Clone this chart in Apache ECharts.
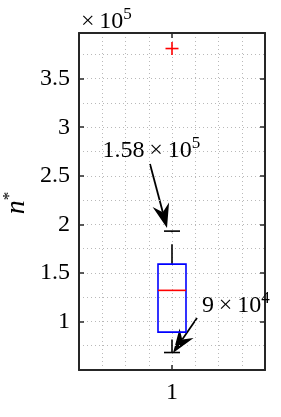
<!DOCTYPE html>
<html><head><meta charset="utf-8">
<script src="https://cdn.jsdelivr.net/npm/echarts@6/dist/echarts.min.js"></script>
<style>html,body{margin:0;padding:0;background:#fff}#c{width:281px;height:417px}</style>
</head><body><div id="c"></div>
<script>
// ---- data ----
const categories = ['1'];
const lowerWhisker = [0.68];
const q1 = [0.89];
const median = [1.32];
const q3 = [1.59];
const upperWhisker = [1.93];
const outliers = [3.81];
const yTickValues = [1, 1.5, 2, 2.5, 3, 3.5];
const xTickValues = [1];
const yRange = [0.5, 3.97];
const axisExponent = ['×\u200910', '5'];
const annotationHigh = ['1.58\u2009×\u200910', '5'];
const annotationLow = ['9\u2009×\u200910', '4'];
const yLabel = ['n', '*'];

// ---- style ----
const FONT = '"Times New Roman", serif';
const AX = '#262626';
const GRID = { color: '#b9b9b9', type: [1, 3], width: 1 };

const chart = echarts.init(document.getElementById('c'));

const boxData = categories.map((c, i) => [i, lowerWhisker[i], q1[i], median[i], q3[i], upperWhisker[i]]);
const outlierData = outliers.map(v => [0, v]);

function supText(parts, x, y) {
  return {
    type: 'text', x: x, y: y, z: 100,
    style: {
      text: '{b|' + parts[0] + '}{s|' + parts[1] + '}', fill: '#000', fontFamily: FONT, fontSize: 24,
      rich: {
        b: { fontFamily: FONT, fontSize: 24, lineHeight: 28, verticalAlign: 'bottom' },
        s: { fontFamily: FONT, fontSize: 17, lineHeight: 17, verticalAlign: 'top' }
      }
    }
  };
}
function arrow(tail, tip) {
  const L = 24, W = 8.5, notch = 0.68;
  const dx = tip[0] - tail[0], dy = tip[1] - tail[1];
  const len = Math.sqrt(dx * dx + dy * dy);
  const ux = dx / len, uy = dy / len, nx = -uy, ny = ux;
  const bx = tip[0] - ux * L, by = tip[1] - uy * L;
  const mx = tip[0] - ux * L * notch, my = tip[1] - uy * L * notch;
  return {
    type: 'group', z: 100,
    children: [
      { type: 'line', shape: { x1: tail[0], y1: tail[1], x2: mx, y2: my }, style: { stroke: '#000', lineWidth: 1.8 } },
      { type: 'polygon', shape: { points: [tip, [bx + nx * W, by + ny * W], [mx, my], [bx - nx * W, by - ny * W]] }, style: { fill: '#000' } }
    ]
  };
}

const hiddenAxisParts = { axisLine: { show: false }, axisTick: { show: false }, axisLabel: { show: false } };

const option = {
  animation: false,
  backgroundColor: '#fff',
  textStyle: { fontFamily: FONT },
  grid: { left: 79, right: 16, top: 33, bottom: 47, containLabel: false },
  xAxis: [
    {
      type: 'category', data: categories, boundaryGap: true, position: 'bottom',
      axisLine: { show: true, lineStyle: { color: AX, width: 2 } },
      axisTick: { show: true, inside: true, alignWithLabel: true, length: 5, lineStyle: { color: AX, width: 1.5 } },
      axisLabel: { fontFamily: FONT, fontSize: 24, color: '#000', margin: 11 },
      splitLine: { show: false }
    },
    {
      type: 'value', min: 0.5, max: 1.5, interval: 0.5, position: 'top',
      axisLine: { show: true, onZero: false, lineStyle: { color: AX, width: 2 } },
      axisTick: { show: true, inside: true, length: 5, customValues: xTickValues, lineStyle: { color: AX, width: 1.5 } },
      axisLabel: { show: false },
      splitLine: { show: false }
    },
    Object.assign({
      type: 'value', min: 0.5, max: 1.5, interval: 0.125, position: 'bottom',
      splitLine: { show: true, lineStyle: GRID }
    }, hiddenAxisParts)
  ],
  yAxis: [
    {
      type: 'value', min: yRange[0], max: yRange[1], interval: 0.5, position: 'left',
      axisLine: { show: true, onZero: false, lineStyle: { color: AX, width: 2 } },
      axisTick: { show: true, inside: true, length: 5, customValues: yTickValues, lineStyle: { color: AX, width: 1.5 } },
      axisLabel: { fontFamily: FONT, fontSize: 24, color: '#000', margin: 9, customValues: yTickValues, formatter: v => String(v) },
      splitLine: { show: false }
    },
    {
      type: 'value', min: yRange[0], max: yRange[1], interval: 0.5, position: 'right',
      axisLine: { show: true, onZero: false, lineStyle: { color: AX, width: 2 } },
      axisTick: { show: true, inside: true, length: 5, customValues: yTickValues, lineStyle: { color: AX, width: 1.5 } },
      axisLabel: { show: false },
      splitLine: { show: false }
    },
    Object.assign({
      type: 'value', min: yRange[0], max: yRange[1], interval: 0.25, position: 'left',
      splitLine: { show: true, lineStyle: GRID }
    }, hiddenAxisParts)
  ],
  series: [
    {
      type: 'custom', xAxisIndex: 0, yAxisIndex: 0, z: 10,
      data: boxData,
      encode: { x: 0, y: [1, 2, 3, 4, 5] },
      renderItem: function (params, api) {
        const i = api.value(0);
        const pLo = api.coord([i, api.value(1)]);
        const pQ1 = api.coord([i, api.value(2)]);
        const pMed = api.coord([i, api.value(3)]);
        const pQ3 = api.coord([i, api.value(4)]);
        const pHi = api.coord([i, api.value(5)]);
        const cx = pQ1[0];
        const hb = 14, hc = 8;
        return {
          type: 'group',
          children: [
            { type: 'line', shape: { x1: cx, y1: pQ3[1], x2: cx, y2: pHi[1] }, style: { stroke: '#000', lineWidth: 1.6, lineDash: [20, 12] } },
            { type: 'line', shape: { x1: cx, y1: pLo[1], x2: cx, y2: pQ1[1] }, style: { stroke: '#000', lineWidth: 1.6, lineDash: [13, 20] } },
            { type: 'line', shape: { x1: cx - hc, y1: pHi[1], x2: cx + hc, y2: pHi[1] }, style: { stroke: '#000', lineWidth: 1.6 } },
            { type: 'line', shape: { x1: cx - hc, y1: pLo[1], x2: cx + hc, y2: pLo[1] }, style: { stroke: '#000', lineWidth: 1.6 } },
            { type: 'rect', shape: { x: cx - hb, y: pQ3[1], width: hb * 2, height: pQ1[1] - pQ3[1] }, style: { stroke: '#0000ff', fill: null, lineWidth: 1.6 } },
            { type: 'line', shape: { x1: cx - hb, y1: pMed[1], x2: cx + hb, y2: pMed[1] }, style: { stroke: '#ff0000', lineWidth: 1.6 } }
          ]
        };
      }
    },
    {
      type: 'custom', xAxisIndex: 0, yAxisIndex: 0, z: 11,
      data: outlierData,
      encode: { x: 0, y: 1 },
      renderItem: function (params, api) {
        const p = api.coord([api.value(0), api.value(1)]);
        const h = 6.5;
        return {
          type: 'group',
          children: [
            { type: 'line', shape: { x1: p[0] - h, y1: p[1], x2: p[0] + h, y2: p[1] }, style: { stroke: '#ff0000', lineWidth: 1.6 } },
            { type: 'line', shape: { x1: p[0], y1: p[1] - h, x2: p[0], y2: p[1] + h }, style: { stroke: '#ff0000', lineWidth: 1.6 } }
          ]
        };
      }
    }
  ],
  graphic: [
    supText(axisExponent, 81, 6),
    supText(annotationHigh, 102.5, 135),
    supText(annotationLow, 202, 290),
    arrow([150, 164], [167, 228]),
    arrow([197, 318], [173, 353]),
    {
      type: 'text', x: 16, y: 203, rotation: Math.PI / 2, z: 100,
      style: {
        text: '{i|' + yLabel[0] + '}{s|' + yLabel[1] + '}',
        align: 'center', verticalAlign: 'middle', fontFamily: FONT, fontSize: 28, fill: '#000',
        rich: {
          i: { fontFamily: FONT, fontStyle: 'italic', fontSize: 28, lineHeight: 30, verticalAlign: 'bottom' },
          s: { fontFamily: FONT, fontSize: 17, lineHeight: 17, verticalAlign: 'top' }
        }
      }
    }
  ]
};
chart.setOption(option);
</script>
</body></html>
